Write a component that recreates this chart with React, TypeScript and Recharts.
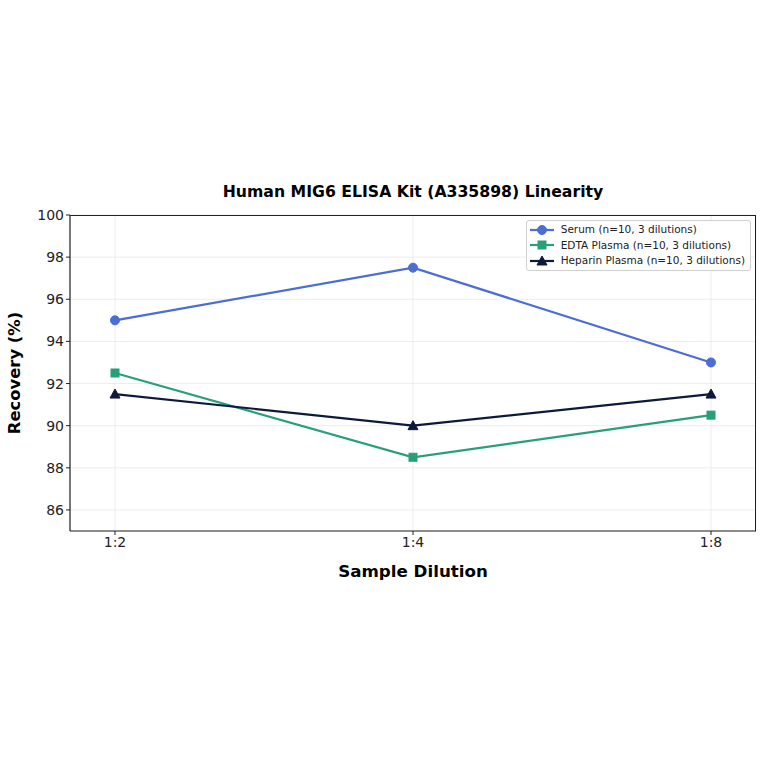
import React from "react";
import { LineChart, Line, XAxis, YAxis, CartesianGrid } from "recharts";

const dilutions = ["1:2", "1:4", "1:8"];
const serum = [95.0, 97.5, 93.0];
const edta = [92.5, 88.5, 90.5];
const heparin = [91.5, 90.0, 91.5];
const yTicks = [86, 88, 90, 92, 94, 96, 98, 100];

const seriesInfo = [
  { key: "serum", name: "Serum (n=10, 3 dilutions)", color: "#4a6dd6", shape: "circle" },
  { key: "edta", name: "EDTA Plasma (n=10, 3 dilutions)", color: "#27a077", shape: "square" },
  { key: "heparin", name: "Heparin Plasma (n=10, 3 dilutions)", color: "#0e1a3c", shape: "triangle" },
];

const data = dilutions.map((d, i) => ({
  dilution: d,
  serum: serum[i],
  edta: edta[i],
  heparin: heparin[i],
}));

const FONT = "'DejaVu Sans', sans-serif";

function Marker({ cx, cy, shape, color }: any) {
  if (cx == null || cy == null) return null;
  if (shape === "circle") return <circle cx={cx} cy={cy} r={4.5} fill={color} stroke={color} />;
  if (shape === "square") return <rect x={cx - 4} y={cy - 4} width={8} height={8} fill={color} stroke={color} />;
  return (
    <polygon
      points={`${cx},${cy - 5} ${cx - 5},${cy + 4} ${cx + 5},${cy + 4}`}
      fill={color}
      stroke={color}
    />
  );
}

function LegendBox() {
  return (
    <div
      style={{
        position: "absolute",
        right: 13,
        top: 220,
        border: "1px solid #d0d0d0",
        borderRadius: 3,
        background: "#fff",
        padding: "1px 5px 1px 2px",
        fontFamily: FONT,
        fontSize: 10.5,
        color: "#222",
        lineHeight: "15.5px",
      }}
    >
      {seriesInfo.map((s) => (
        <div key={s.key} style={{ display: "flex", alignItems: "center", whiteSpace: "nowrap" }}>
          <svg width={26} height={12} style={{ marginRight: 6 }}>
            <line x1={1} y1={6} x2={25} y2={6} stroke={s.color} strokeWidth={2.2} />
            <Marker cx={13} cy={6} shape={s.shape} color={s.color} />
          </svg>
          <span>{s.name}</span>
        </div>
      ))}
    </div>
  );
}

export default function App() {
  return (
    <div style={{ position: "absolute", left: 0, top: 0, width: 764, height: 764, background: "#fff" }}>
      <div
        style={{
          position: "absolute",
          top: 182,
          left: 70,
          width: 686,
          textAlign: "center",
          fontFamily: FONT,
          fontWeight: "bold",
          fontSize: 15.7,
          color: "#000",
        }}
      >
        Human MIG6 ELISA Kit (A335898) Linearity
      </div>
      <LineChart
        width={764}
        height={764}
        data={data}
        margin={{ top: 215, right: 8, left: 0, bottom: 183 }}
      >
        <CartesianGrid stroke="#e8e8e8" strokeWidth={0.8} />
        <XAxis
          dataKey="dilution"
          padding={{ left: 45, right: 45 }}
          height={50}
          tick={{ fontFamily: FONT, fontSize: 14, fill: "#222" }}
          tickLine={{ stroke: "#222" }}
          tickSize={4}
          axisLine={{ stroke: "#222", strokeWidth: 1.2 }}
          label={{
            value: "Sample Dilution",
            position: "insideBottom",
            offset: 4,
            style: { fontFamily: FONT, fontSize: 16.7, fontWeight: "bold", fill: "#000" },
          }}
        />
        <YAxis
          domain={[85, 100]}
          ticks={yTicks}
          width={70}
          tick={{ fontFamily: FONT, fontSize: 14, fill: "#222" }}
          tickLine={{ stroke: "#222" }}
          tickSize={4}
          axisLine={{ stroke: "#222", strokeWidth: 1.2 }}
          label={{
            value: "Recovery (%)",
            angle: -90,
            position: "insideLeft",
            offset: 14,
            style: { fontFamily: FONT, fontSize: 16.4, fontWeight: "bold", fill: "#000", textAnchor: "middle" },
          }}
        />
        {seriesInfo.map((s) => (
          <Line
            key={s.key}
            type="linear"
            dataKey={s.key}
            name={s.name}
            stroke={s.color}
            strokeWidth={2.2}
            isAnimationActive={false}
            dot={(p: any) => <Marker key={`${s.key}-${p.index}`} cx={p.cx} cy={p.cy} shape={s.shape} color={s.color} />}
            activeDot={false}
          />
        ))}
      </LineChart>
      <div
        style={{
          position: "absolute",
          left: 70,
          top: 215,
          width: 686,
          height: 316,
          boxSizing: "border-box",
          borderTop: "1.2px solid #222",
          borderRight: "1.2px solid #222",
          pointerEvents: "none",
        }}
      />
      <LegendBox />
    </div>
  );
}
